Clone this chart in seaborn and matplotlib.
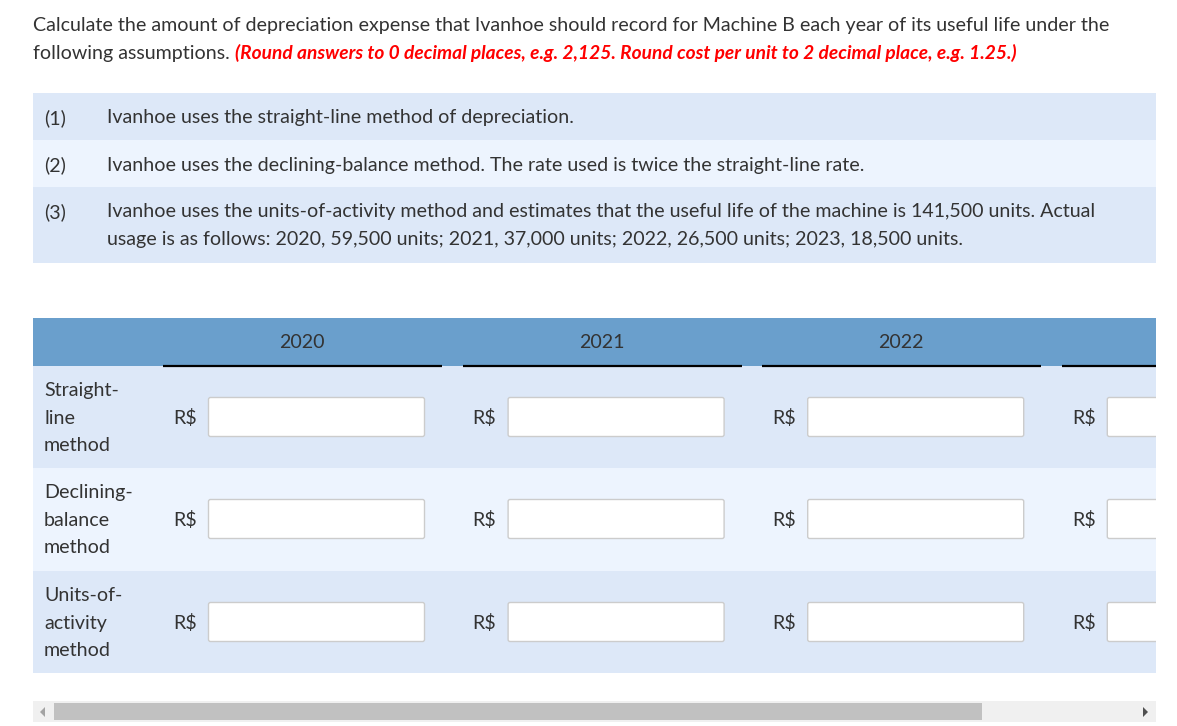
import matplotlib.pyplot as plt
import matplotlib.patches as mpatches
import seaborn as sns

# texts of the exercise
intro_line1 = "Calculate the amount of depreciation expense that Ivanhoe should record for Machine B each year of its useful life under the"
intro_line2 = "following assumptions."
hint = "(Round answers to 0 decimal places, e.g. 2,125. Round cost per unit to 2 decimal place, e.g. 1.25.)"

assumption_nums = ["(1)", "(2)", "(3)"]
assumptions = [
    ["Ivanhoe uses the straight-line method of depreciation."],
    ["Ivanhoe uses the declining-balance method. The rate used is twice the straight-line rate."],
    ["Ivanhoe uses the units-of-activity method and estimates that the useful life of the machine is 141,500 units. Actual",
     "usage is as follows: 2020, 59,500 units; 2021, 37,000 units; 2022, 26,500 units; 2023, 18,500 units."],
]

years = ["2020", "2021", "2022", "2023"]
methods = [["Straight-", "line", "method"],
           ["Declining-", "balance", "method"],
           ["Units-of-", "activity", "method"]]
currency = "R$"

sns.set_theme(style="white")
plt.rcParams['font.family'] = ['Lato', 'DejaVu Sans']

TXT = '#333333'
ROW_A = '#dde8f8'
ROW_B = '#edf4fe'
HEAD = '#6a9fcc'
FS = 14.15

W, H = 1177, 726
fig = plt.figure(figsize=(W / 100, H / 100), dpi=100)
ax = fig.add_axes([0, 0, 1, 1])
ax.set_xlim(0, W)
ax.set_ylim(H, 0)
ax.axis('off')
fig.patch.set_facecolor('white')

# intro
ax.text(33, 31, intro_line1, fontsize=FS, color=TXT, va='baseline')
t2 = ax.text(33, 59, intro_line2, fontsize=FS, color=TXT, va='baseline')
fig.canvas.draw()
bb = t2.get_window_extent(fig.canvas.get_renderer())
x_end = ax.transData.inverted().transform((bb.x1, 0))[0]
ax.text(x_end + 5, 59, hint, fontsize=13.8, color='#ff0000', va='baseline',
        fontweight='bold', fontstyle='italic')

# assumptions box
box_rows = [(93, 140), (140, 187), (187, 263)]
for i, (y0, y1) in enumerate(box_rows):
    ax.add_patch(mpatches.Rectangle((33, y0), 1123, y1 - y0, color=ROW_A if i % 2 == 0 else ROW_B, lw=0))
    ax.text(44, y0 + 25, assumption_nums[i], fontsize=FS, color=TXT, va='center')
    for k, line in enumerate(assumptions[i]):
        ax.text(107, y0 + 25 + 27 * k, line, fontsize=FS, color=TXT, va='center')

# answer table
clip = mpatches.Rectangle((33, 318), 1123, 355, transform=ax.transData)
ax.add_patch(mpatches.Rectangle((33, 318), 1123, 48, color=HEAD, lw=0))
col_x = [163 + 299.6 * j for j in range(len(years))]
for j, yr in enumerate(years):
    x0 = col_x[j]
    if x0 + 139 < 1156:
        ax.text(x0 + 139, 343, yr, fontsize=FS, color=TXT, ha='center', va='center')
    ln, = ax.plot([x0, x0 + 279], [366, 366], color='black', lw=1.6, solid_capstyle='butt')
    ln.set_clip_path(clip)

row_top = [366, 468, 571]
row_h = [102, 103, 102]
for i, m in enumerate(methods):
    y0 = row_top[i]
    ax.add_patch(mpatches.Rectangle((33, y0), 1123, row_h[i], color=ROW_A if i % 2 == 0 else ROW_B, lw=0))
    yc = y0 + 51
    for k, part in enumerate(m):
        ax.text(44, yc - 26.5 + 27.5 * k, part, fontsize=FS, color=TXT, va='center')
    for j in range(len(years)):
        x0 = col_x[j]
        ax.text(x0 + 10, yc + 1, currency, fontsize=FS, color=TXT, va='center')
        box = mpatches.FancyBboxPatch((x0 + 45.5, yc - 19.5), 216, 39,
                                      boxstyle='round,pad=0,rounding_size=2',
                                      facecolor='white', edgecolor='#cccccc', lw=1)
        ax.add_patch(box)
        box.set_clip_path(clip)

# horizontal scrollbar
ax.add_patch(mpatches.Rectangle((33, 701), 1123, 21, color='#f0f0f0', lw=0))
ax.add_patch(mpatches.Rectangle((54, 703), 928, 17, color='#c1c1c1', lw=0))
ax.add_patch(mpatches.Polygon([(45, 707), (45, 717), (40, 712)], color='#a3a3a3', lw=0))
ax.add_patch(mpatches.Polygon([(1143, 707), (1143, 717), (1148, 712)], color='#505050', lw=0))

fig.savefig('out.png', dpi=100)
